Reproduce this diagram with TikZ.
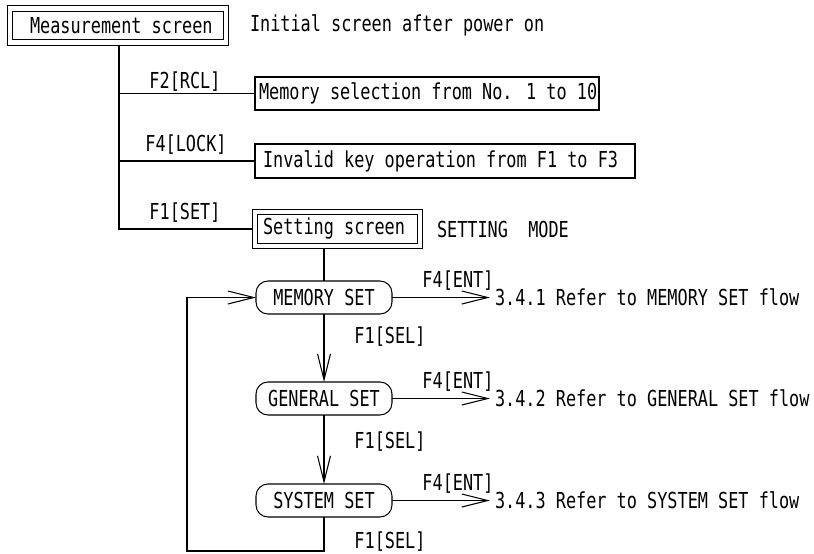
\documentclass[tikz,border=0pt]{standalone}
\usepackage{fontspec}
\usetikzlibrary{arrows.meta}
\newfontfamily\flowfont[FakeStretch=0.766]{DejaVu Sans Mono}
\begin{document}
\begin{tikzpicture}[x=1pt,y=-1pt,line width=1.05pt,
  font=\flowfont\fontsize{22}{26}\selectfont,
  >={Straight Barb[length=26pt,width=13pt]},
  screenbox/.style={draw,double,double distance=4.5pt,outer sep=3.2pt,inner sep=0pt},
  plainbox/.style={draw,inner sep=0pt,outer sep=0pt},
  modebox/.style={draw,rounded corners=12pt,minimum width=136pt,minimum height=33pt,inner sep=0pt,outer sep=0pt},
  txt/.style={inner sep=0pt,outer sep=0pt}]
\useasboundingbox (0,0) rectangle (814,554);

% top level screens
\node[screenbox,minimum width=216pt,minimum height=34pt] (meas) at (118,25.5) {};
\node[txt,anchor=west] (meastxt) at (30,25.5) {Measurement screen};
\node[txt,anchor=west] (measnote) at (250,25.5) {Initial screen after power on};

\node[plainbox,minimum width=344pt,minimum height=33pt] (mem) at (427,93.5) {};
\node[txt,anchor=west] (memtxt) at (259,93.5) {Memory selection from No. 1 to 10};

\node[plainbox,minimum width=380pt,minimum height=34pt] (inv) at (445,161) {};
\node[txt,anchor=west] (invtxt) at (263,161) {Invalid key operation from F1 to F3};

\node[screenbox,minimum width=165pt,minimum height=34pt] (set) at (337.5,229) {};
\node[txt,anchor=west] (settxt) at (263,229) {Setting screen};
\node[txt,anchor=west] (setnote) at (437,229) {SETTING\ \ MODE};

% key labels on the trunk
\node[txt] (kf2) at (185,82) {F2[RCL]};
\node[txt] (kf4) at (186,145) {F4[LOCK]};
\node[txt] (kf1) at (185,213) {F1[SET]};

% trunk and branches
\coordinate (trunk) at (119,229);
\draw (meas.south -| trunk) -- (trunk) -- (set.west);
\draw (mem.west -| trunk) -- (mem.west);
\draw (inv.west -| trunk) -- (inv.west);

% setting menus
\node[modebox] (msel) at (324,297.5) {MEMORY SET};
\node[modebox] (gsel) at (324,398.5) {GENERAL SET};
\node[modebox] (ssel) at (324,500.5) {SYSTEM SET};

\draw (set.south -| msel) -- (msel.north);
\draw[->] (msel.south) -- (gsel.north);
\draw[->] (gsel.south) -- (ssel.north);

\node[txt] (sel1) at (390,337) {F1[SEL]};
\node[txt] (sel2) at (390,442) {F1[SEL]};
\node[txt] (sel3) at (390,542) {F1[SEL]};

% entries into each sub flow
\node[txt,anchor=west] (r1) at (495,297.5) {3.4.1 Refer to MEMORY SET flow};
\node[txt,anchor=west] (r2) at (495,398.5) {3.4.2 Refer to GENERAL SET flow};
\node[txt,anchor=west] (r3) at (495,500.5) {3.4.3 Refer to SYSTEM SET flow};
\coordinate (e1) at (490,297.5);
\coordinate (e2) at (490,398.5);
\coordinate (e3) at (490,500.5);
\draw[->] (msel.east) -- (e1);
\draw[->] (gsel.east) -- (e2);
\draw[->] (ssel.east) -- (e3);
\node[txt] (ent1) at (458,281) {F4[ENT]};
\node[txt] (ent2) at (458,382) {F4[ENT]};
\node[txt] (ent3) at (458,484) {F4[ENT]};

% return path back to the first menu
\coordinate (lb) at (187,551);
\draw[->] (ssel.south) |- (lb) |- (msel.west);
\end{tikzpicture}
\end{document}
